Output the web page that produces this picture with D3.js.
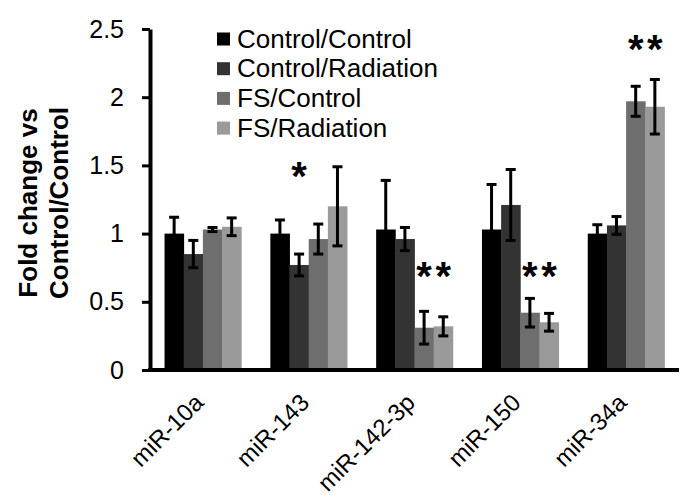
<!DOCTYPE html>
<html><head><meta charset="utf-8">
<script src="https://cdn.jsdelivr.net/npm/d3@7"></script>
<style>body{margin:0;background:#fff}svg{display:block}text{font-family:"Liberation Sans",Arial,sans-serif}</style>
</head><body>
<script>
const categories = ["miR-10a","miR-143","miR-142-3p","miR-150","miR-34a"];
const seriesNames = ["Control/Control","Control/Radiation","FS/Control","FS/Radiation"];
const seriesColors = ["#000000","#333333","#6e6e6e","#9a9a9a"];
const ctrlCtrl = [1.00, 1.00, 1.03, 1.03, 1.00];
const ctrlRad  = [0.85, 0.77, 0.96, 1.21, 1.06];
const fsCtrl   = [1.03, 0.96, 0.31, 0.42, 1.97];
const fsRad    = [1.05, 1.20, 0.32, 0.35, 1.93];
const ctrlCtrlErr = [0.12, 0.10, 0.36, 0.33, 0.065];
const ctrlRadErr  = [0.10, 0.08, 0.085, 0.26, 0.065];
const fsCtrlErr   = [0.015, 0.11, 0.12, 0.105, 0.11];
const fsRadErr    = [0.065, 0.29, 0.07, 0.065, 0.20];
const yTicks = [0, 0.5, 1, 1.5, 2, 2.5];
const starCats   = ["miR-143","miR-142-3p","miR-142-3p","miR-150","miR-150","miR-34a","miR-34a"];
const starSeries = [1, 2, 3, 2, 3, 2, 3];
const starLevel  = [1.48, 0.75, 0.75, 0.75, 0.75, 2.41, 2.41];

const values = [ctrlCtrl, ctrlRad, fsCtrl, fsRad];
const errors = [ctrlCtrlErr, ctrlRadErr, fsCtrlErr, fsRadErr];

const W = 698, H = 502;
const svg = d3.select("body").append("svg").attr("width", W).attr("height", H);
svg.append("rect").attr("width", W).attr("height", H).attr("fill", "#fff");

const x0 = d3.scaleBand().domain(categories).range([150, 679]).paddingInner(0.275).paddingOuter(0.1375);
const x1 = d3.scaleBand().domain(d3.range(4)).range([0, x0.bandwidth()]);
const y = d3.scaleLinear().domain([0, 2.5]).range([370, 29]);

// bars
const data = [];
categories.forEach((c, i) => values.forEach((s, k) => data.push({c, k, v: s[i], e: errors[k][i]})));
const g = svg.append("g");
g.selectAll("rect.bar").data(data).join("rect")
  .attr("x", d => x0(d.c) + x1(d.k))
  .attr("width", x1.bandwidth() + 0.4)
  .attr("y", d => y(d.v))
  .attr("height", d => y(0) - y(d.v))
  .attr("fill", d => seriesColors[d.k]);

// error bars
const eg = g.selectAll("g.err").data(data).join("g").attr("stroke", "#000").attr("stroke-width", 3);
eg.append("line")
  .attr("x1", d => x0(d.c) + x1(d.k) + x1.bandwidth()/2)
  .attr("x2", d => x0(d.c) + x1(d.k) + x1.bandwidth()/2)
  .attr("y1", d => y(d.v + d.e)).attr("y2", d => y(d.v - d.e));
[1, -1].forEach(sg => {
  eg.append("line")
    .attr("x1", d => x0(d.c) + x1(d.k) + x1.bandwidth()/2 - 5)
    .attr("x2", d => x0(d.c) + x1(d.k) + x1.bandwidth()/2 + 5)
    .attr("y1", d => y(d.v + sg*d.e)).attr("y2", d => y(d.v + sg*d.e));
});

// y axis
const ya = svg.append("g").attr("transform", "translate(150,0)")
  .call(d3.axisLeft(y).tickValues(yTicks).tickFormat(d3.format("")).tickSize(8).tickSizeOuter(0).tickPadding(18));
ya.select(".domain").attr("stroke", "#000").attr("stroke-width", 4);
ya.selectAll(".tick line").attr("stroke", "#000").attr("stroke-width", 3);
ya.selectAll(".tick text").attr("font-size", 25).attr("fill", "#000")
  .attr("font-family", '"Liberation Sans",Arial,sans-serif');

// x axis
const xa = svg.append("g").attr("transform", "translate(0,370)")
  .call(d3.axisBottom(x0).tickSize(0).tickSizeOuter(0));
xa.select(".domain").attr("stroke", "#000").attr("stroke-width", 4).attr("d", "M148,0H679");
xa.selectAll(".tick text")
  .attr("font-size", 24).attr("fill", "#000")
  .attr("font-family", '"Liberation Sans",Arial,sans-serif')
  .attr("text-anchor", "end")
  .attr("dy", null).attr("y", 0)
  .attr("transform", "translate(2,34) rotate(-45)");

// stars
const stars = starCats.map((c, i) => ({c, k: starSeries[i], lv: starLevel[i]}));
svg.selectAll("text.star").data(stars).join("text")
  .attr("class", "star")
  .attr("x", d => x0(d.c) + x1(d.k) + x1.bandwidth()/2)
  .attr("y", d => y(d.lv) + 22)
  .attr("text-anchor", "middle")
  .attr("font-size", 40).attr("font-weight", "bold")
  .text("*");

// legend
const lg = svg.append("g");
seriesNames.forEach((n, k) => {
  const cy = 39 + k * 29.7;
  lg.append("rect").attr("x", 217).attr("y", cy - 6.5).attr("width", 13).attr("height", 13).attr("fill", seriesColors[k]);
  lg.append("text").attr("x", 237).attr("y", cy + 8.5).attr("font-size", 26).attr("fill", "#000").text(n);
});

// y title
const yt = svg.append("text").attr("transform", "translate(37,203) rotate(-90)")
  .attr("text-anchor", "middle").attr("font-size", 26).attr("font-weight", "bold");
yt.append("tspan").attr("x", 0).attr("y", 0).text("Fold change vs");
yt.append("tspan").attr("x", 0).attr("y", 31).text("Control/Control");
</script>
</body></html>
